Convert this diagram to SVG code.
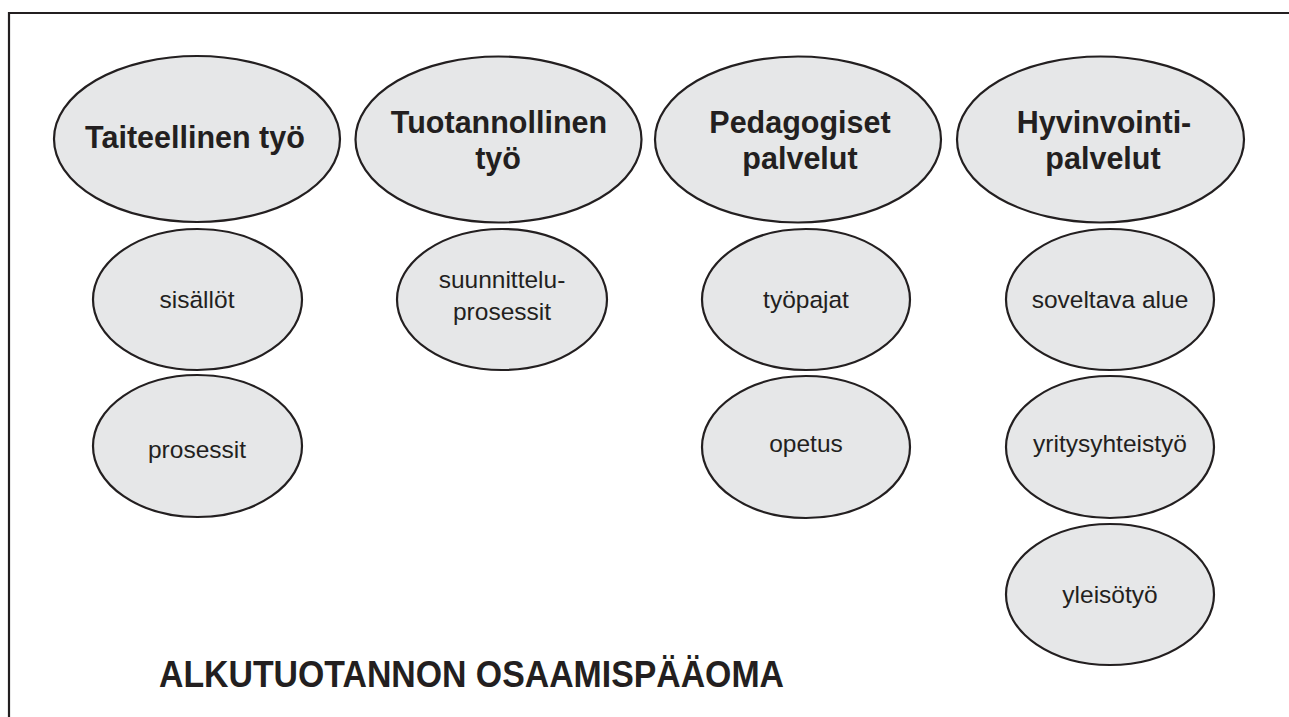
<svg xmlns="http://www.w3.org/2000/svg" width="1289" height="717" viewBox="0 0 1289 717">
<style>
.frame{fill:none;stroke:#231f20;stroke-width:2.2}
.big{fill:#e6e7e8;stroke:#231f20;stroke-width:2.2}
.small{fill:#e6e7e8;stroke:#231f20;stroke-width:2.2}
.h{font-family:"Liberation Sans",Arial,sans-serif;font-weight:bold;font-size:30.5px;fill:#231f20;text-anchor:middle}
.t{font-family:"Liberation Sans",Arial,sans-serif;font-size:24.5px;fill:#231f20;text-anchor:middle}
.title{font-family:"Liberation Sans",Arial,sans-serif;font-weight:bold;font-size:36px;fill:#231f20}
</style>
<rect width="1289" height="717" fill="#ffffff"/>
<path class="frame" d="M9,717 V13 H1289"/>
<g id="connectors"></g>
<g id="n-taiteellinen">
<ellipse class="big" cx="197" cy="139" rx="143" ry="83"/>
<text class="h" x="195" y="148">Taiteellinen työ</text>
</g>
<g id="n-tuotannollinen">
<ellipse class="big" cx="498.5" cy="139.5" rx="143" ry="83"/>
<text class="h" x="499" y="133">Tuotannollinen</text>
<text class="h" x="498" y="169">työ</text>
</g>
<g id="n-pedagogiset">
<ellipse class="big" cx="798" cy="139.5" rx="143" ry="83"/>
<text class="h" x="800" y="133">Pedagogiset</text>
<text class="h" x="800" y="169">palvelut</text>
</g>
<g id="n-hyvinvointi">
<ellipse class="big" cx="1100.5" cy="139.5" rx="143.5" ry="83"/>
<text class="h" x="1104" y="133">Hyvinvointi-</text>
<text class="h" x="1103" y="169">palvelut</text>
</g>
<g id="n-sisallot">
<ellipse class="small" cx="197.5" cy="299.5" rx="104.5" ry="70.5"/>
<text class="t" x="197" y="308">sisällöt</text>
</g>
<g id="n-prosessit">
<ellipse class="small" cx="197.5" cy="446" rx="104.5" ry="71"/>
<text class="t" x="197" y="458">prosessit</text>
</g>
<g id="n-suunnittelu">
<ellipse class="small" cx="502" cy="299.5" rx="105" ry="70.5"/>
<text class="t" x="502" y="288">suunnittelu-</text>
<text class="t" x="502" y="320">prosessit</text>
</g>
<g id="n-tyopajat">
<ellipse class="small" cx="806" cy="299.5" rx="104" ry="70.5"/>
<text class="t" x="806" y="308">työpajat</text>
</g>
<g id="n-opetus">
<ellipse class="small" cx="806" cy="447" rx="104" ry="71"/>
<text class="t" x="806" y="452">opetus</text>
</g>
<g id="n-soveltava">
<ellipse class="small" cx="1110" cy="299.5" rx="104" ry="70.5"/>
<text class="t" x="1110" y="308">soveltava alue</text>
</g>
<g id="n-yritys">
<ellipse class="small" cx="1110" cy="447" rx="104" ry="71"/>
<text class="t" x="1110" y="452">yritysyhteistyö</text>
</g>
<g id="n-yleisotyo">
<ellipse class="small" cx="1110" cy="594.5" rx="104" ry="70.5"/>
<text class="t" x="1110" y="603">yleisötyö</text>
</g>
<g id="n-title">
<text class="title" x="159" y="687" textLength="625" lengthAdjust="spacingAndGlyphs">ALKUTUOTANNON OSAAMISPÄÄOMA</text>
</g>
</svg>
